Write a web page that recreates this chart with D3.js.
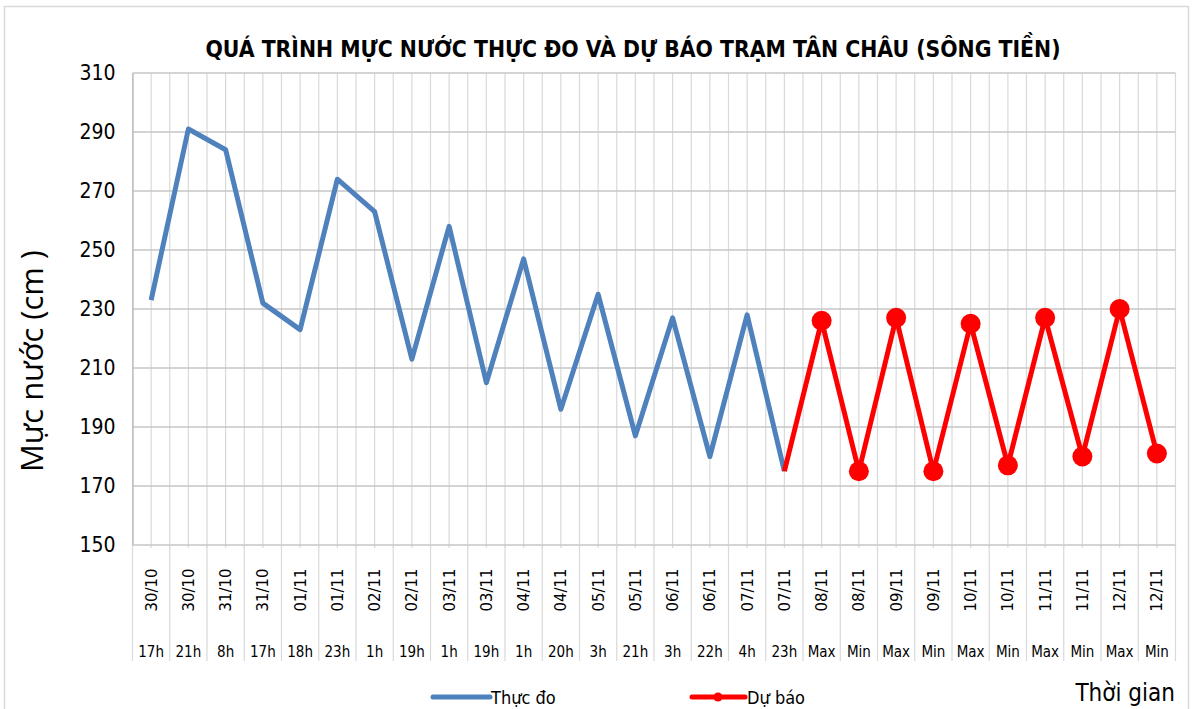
<!DOCTYPE html>
<head>
  <meta charset="utf-8">
  <script src="https://d3js.org/d3.v7.min.js"></script>
  <style>
    body { margin: 0; background: #fff; }
    svg { display: block; }
    text { font-family: "Liberation Sans Narrow", "DejaVu Sans Condensed", sans-serif; fill: #000; white-space: pre; }
  </style>
</head>
<body>
<script type="text/javascript">

  // category labels (two levels: date / hour)
  var dates = ["30/10","30/10","31/10","31/10","01/11","01/11","02/11","02/11","03/11","03/11",
               "04/11","04/11","05/11","05/11","06/11","06/11","07/11","07/11","08/11","08/11",
               "09/11","09/11","10/11","10/11","11/11","11/11","12/11","12/11"];
  var hours = ["17h","21h","8h","17h","18h","23h","1h","19h","1h","19h",
               "1h","20h","3h","21h","3h","22h","4h","23h","Max","Min",
               "Max","Min","Max","Min","Max","Min","Max","Min"];

  // water level (cm)
  var observed = [233,291,284,232,223,274,263,213,258,205,247,196,235,187,227,180,228,175];
  var forecast = [null,null,null,null,null,null,null,null,null,null,null,null,null,null,null,null,null,
                  175,226,175,227,175,225,177,227,180,230,181];

  var yTicks = [150,170,190,210,230,250,270,290,310];

  var width = 1193, height = 709;
  var margin = { top: 73, left: 132.5, bottom: 164, right: 17.5 };

  var svg = d3.select('body')
    .append('svg')
    .attr('width', width)
    .attr('height', height);

  // chart border
  svg.append('rect')
    .attr('x', 4.5).attr('y', 6.5)
    .attr('width', 1184).attr('height', 720)
    .attr('fill', 'none')
    .attr('stroke', '#d9d9d9')
    .attr('stroke-width', 1.5);

  var idx = d3.range(dates.length);

  var xScale = d3.scaleBand()
    .domain(idx)
    .range([margin.left, width - margin.right])
    .padding(0);
  var bw = xScale.bandwidth();
  function cx(i) { return xScale(i) + bw / 2; }

  var yScale = d3.scaleLinear()
    .domain([150, 310])
    .range([height - margin.bottom, margin.top]);

  var plotBottom = yScale(150), plotTop = yScale(310);

  // fit a text to a given width by changing its font size
  function fit(sel, w) {
    var fs = +sel.attr('font-size');
    var len = sel.node().getComputedTextLength();
    sel.attr('font-size', (fs * w / len).toFixed(2));
  }

  // vertical gridlines, at band edges and centres
  var vx = [];
  idx.forEach(function (i) { vx.push(xScale(i)); vx.push(cx(i)); });
  vx.push(xScale.range()[1]);
  svg.append('g').selectAll('line')
    .data(vx).enter().append('line')
    .attr('x1', d => d).attr('x2', d => d)
    .attr('y1', plotTop).attr('y2', plotBottom + 3)
    .attr('stroke', '#d9d9d9')
    .attr('stroke-width', 1.2);

  // horizontal gridlines
  svg.append('g').selectAll('line')
    .data(yTicks).enter().append('line')
    .attr('x1', margin.left).attr('x2', xScale.range()[1])
    .attr('y1', d => yScale(d)).attr('y2', d => yScale(d))
    .attr('stroke', '#c6c6c6')
    .attr('stroke-width', 1.5);

  // y axis
  var yAxis = d3.axisLeft(yScale).tickValues(yTicks).tickSize(0).tickPadding(17);
  var ya = svg.append('g')
    .attr('transform', 'translate(' + margin.left + ',0)')
    .call(yAxis);
  ya.select('.domain').attr('stroke', '#bfbfbf').attr('stroke-width', 1.5);
  ya.selectAll('text').attr('font-size', 21).style('font-family', '"Liberation Sans Narrow", "DejaVu Sans Condensed", sans-serif');

  // category table separators
  var sep = idx.map(i => xScale(i)).concat([xScale.range()[1]]);
  svg.append('g').selectAll('line')
    .data(sep).enter().append('line')
    .attr('x1', d => d).attr('x2', d => d)
    .attr('y1', plotBottom).attr('y2', 661)
    .attr('stroke', '#d9d9d9')
    .attr('stroke-width', 1.2);

  // date labels (rotated)
  svg.append('g').selectAll('text')
    .data(idx).enter().append('text')
    .attr('transform', i => 'translate(' + (cx(i) + 5.5) + ',590) rotate(-90)')
    .attr('text-anchor', 'middle')
    .attr('font-size', 16.5)
    .text(i => dates[i]);

  // hour labels
  svg.append('g').selectAll('text')
    .data(idx).enter().append('text')
    .attr('x', i => cx(i))
    .attr('y', 657)
    .attr('text-anchor', 'middle')
    .attr('font-size', 15)
    .text(i => hours[i]);

  var line = d3.line()
    .defined(d => d.v != null)
    .x(d => cx(d.i))
    .y(d => yScale(d.v));

  var obsData = observed.map((v, i) => ({ i: i, v: v }));
  var fcData = forecast.map((v, i) => ({ i: i, v: v }));

  svg.append('path')
    .datum(obsData)
    .attr('d', line)
    .attr('fill', 'none')
    .attr('stroke', '#4f81bd')
    .attr('stroke-width', 5)
    .attr('stroke-linejoin', 'round');

  svg.append('path')
    .datum(fcData)
    .attr('d', line)
    .attr('fill', 'none')
    .attr('stroke', '#ff0000')
    .attr('stroke-width', 5)
    .attr('stroke-linejoin', 'round');

  // markers only on the forecast Max/Min points
  svg.append('g').selectAll('circle')
    .data(fcData.filter(d => d.v != null && (hours[d.i] == 'Max' || hours[d.i] == 'Min')))
    .enter().append('circle')
    .attr('cx', d => cx(d.i))
    .attr('cy', d => yScale(d.v))
    .attr('r', 10)
    .attr('fill', '#ff0000');

  // title
  var title = svg.append('text')
    .attr('x', 633).attr('y', 57)
    .attr('text-anchor', 'middle')
    .attr('font-size', 26)
    .attr('font-weight', 'bold')
    .text('QUÁ TRÌNH MỰC NƯỚC THỰC ĐO VÀ DỰ BÁO TRẠM TÂN CHÂU (SÔNG TIỀN)');
  fit(title, 855);

  // y axis title
  var yTitle = svg.append('text')
    .attr('transform', 'translate(43,361) rotate(-90)')
    .attr('text-anchor', 'middle')
    .attr('font-size', 26)
    .style('font-family', '"Open Sans", sans-serif')
    .text('Mực nước (cm )');
  fit(yTitle, 222);

  // x axis title
  svg.append('text')
    .attr('x', 1175).attr('y', 701)
    .attr('text-anchor', 'end')
    .attr('font-size', 24)
    .text('Thời gian');

  // legend
  var legend = svg.append('g');
  legend.append('line')
    .attr('x1', 433).attr('x2', 490).attr('y1', 697).attr('y2', 697)
    .attr('stroke', '#4f81bd').attr('stroke-width', 5).attr('stroke-linecap', 'round');
  legend.append('text')
    .attr('x', 491).attr('y', 704).attr('font-size', 18)
    .text('Thực đo');
  legend.append('line')
    .attr('x1', 692).attr('x2', 745).attr('y1', 697).attr('y2', 697)
    .attr('stroke', '#ff0000').attr('stroke-width', 5).attr('stroke-linecap', 'round');
  legend.append('circle')
    .attr('cx', 718).attr('cy', 697).attr('r', 4.5)
    .attr('fill', '#ff0000');
  legend.append('text')
    .attr('x', 747).attr('y', 704).attr('font-size', 18)
    .text('Dự báo');

</script>
</body>
